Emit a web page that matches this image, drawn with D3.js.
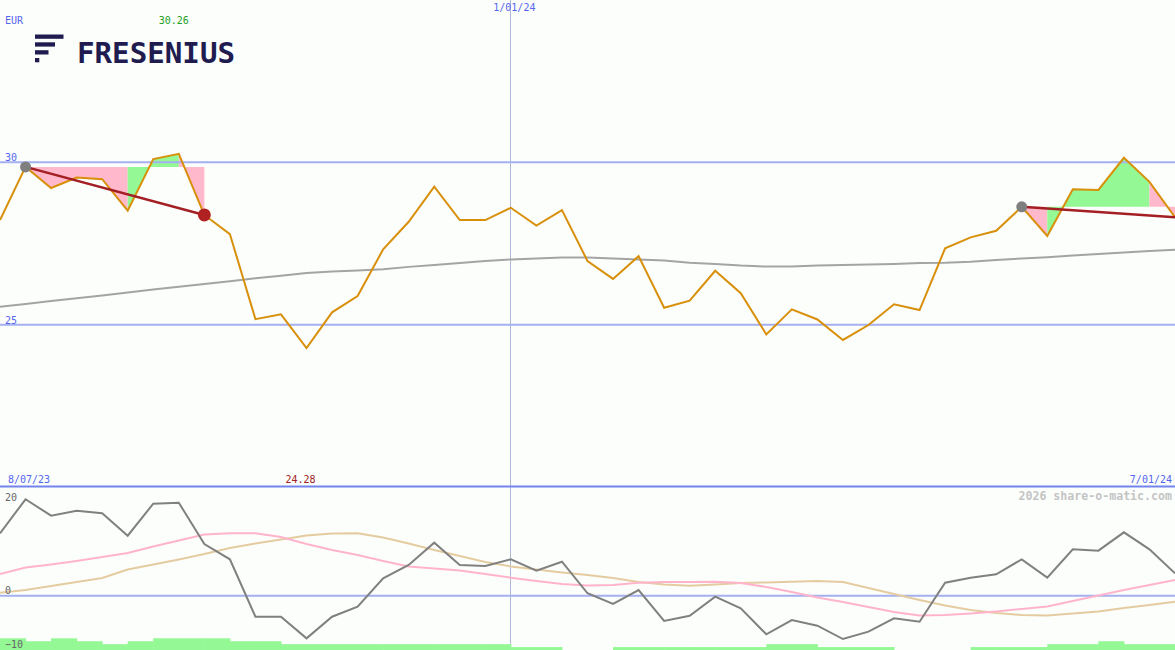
<!DOCTYPE html>
<html>
<head>
<meta charset="utf-8">
<script src="https://cdn.jsdelivr.net/npm/d3@7/dist/d3.min.js"></script>
<style>
  html, body { margin: 0; padding: 0; background: #fcfefc; }
  svg { display: block; }
  text { font-family: "DejaVu Sans Mono", "Liberation Mono", monospace; }
</style>
</head>
<body>
<script>
// ---------------- DATA ----------------
const dates = [
  "2023-08-14","2023-08-21","2023-08-28","2023-09-04","2023-09-11","2023-09-18","2023-09-25",
  "2023-10-02","2023-10-09","2023-10-16","2023-10-23","2023-10-30","2023-11-06","2023-11-13",
  "2023-11-20","2023-11-27","2023-12-04","2023-12-11","2023-12-18","2023-12-25","2024-01-01",
  "2024-01-08","2024-01-15","2024-01-22","2024-01-29","2024-02-05","2024-02-12","2024-02-19",
  "2024-02-26","2024-03-04","2024-03-11","2024-03-18","2024-03-25","2024-04-01","2024-04-08",
  "2024-04-15","2024-04-22","2024-04-29","2024-05-06","2024-05-13","2024-05-20","2024-05-27",
  "2024-06-03","2024-06-10","2024-06-17","2024-06-24","2024-07-01"
];
const price = [
  28.22, 29.86, 29.21, 29.53, 29.48, 28.51, 30.10, 30.26, 28.38, 27.79,
  25.17, 25.32, 24.28, 25.38, 25.88, 27.32, 28.17, 29.25, 28.22, 28.22,
  28.60, 28.05, 28.53, 26.96, 26.41, 27.11, 25.52, 25.74, 26.66, 25.97,
  24.70, 25.47, 25.16, 24.53, 24.99, 25.63, 25.45, 27.35, 27.69, 27.89,
  28.63, 27.73, 29.17, 29.15, 30.14, 29.40, 28.31
];
const movingAvg = [
  25.55, 25.64, 25.73, 25.81, 25.90, 25.99, 26.08, 26.17, 26.25, 26.34,
  26.43, 26.51, 26.59, 26.64, 26.67, 26.71, 26.78, 26.84, 26.90, 26.96,
  27.01, 27.04, 27.07, 27.07, 27.04, 27.01, 26.98, 26.91, 26.87, 26.82,
  26.79, 26.79, 26.82, 26.84, 26.85, 26.87, 26.90, 26.91, 26.94, 26.99,
  27.04, 27.08, 27.13, 27.18, 27.22, 27.27, 27.31
];
const oscillator = [
  11.48, 17.74, 14.72, 15.64, 15.16, 11.04, 16.93, 17.11, 9.51, 6.69,
  -3.87, -3.87, -7.85, -3.87, -2.03, 3.20, 5.65, 9.75, 5.65, 5.46,
  6.69, 4.60, 6.25, 0.44, -1.53, 1.04, -4.66, -3.69, -0.19, -2.32,
  -7.11, -4.48, -5.53, -7.98, -6.63, -4.17, -4.79, 2.39, 3.31, 3.93,
  6.69, 3.31, 8.53, 8.28, 11.66, 8.53, 4.12
];
const signalPink = [
  3.99, 5.18, 5.74, 6.38, 7.12, 7.85, 9.05, 10.15, 11.26, 11.48,
  11.48, 10.80, 9.51, 8.41, 7.49, 6.38, 5.37, 5.00, 4.63, 3.99,
  3.31, 2.70, 2.15, 1.87, 1.96, 2.39, 2.52, 2.52, 2.57, 2.33,
  1.60, 0.68, -0.34, -1.17, -2.09, -3.01, -3.65, -3.56, -3.28, -2.91,
  -2.45, -1.99, -0.98, 0.03, 1.04, 1.96, 2.88
];
const signalTan = [
  0.55, 1.04, 1.78, 2.52, 3.25, 4.82, 5.74, 6.66, 7.67, 8.77,
  9.60, 10.34, 11.07, 11.44, 11.48, 10.71, 9.60, 8.41, 7.30, 6.20,
  5.37, 4.82, 4.26, 3.80, 3.25, 2.52, 2.06, 1.84, 2.06, 2.33,
  2.42, 2.57, 2.70, 2.52, 1.41, 0.31, -0.80, -1.81, -2.64, -3.19,
  -3.56, -3.65, -3.28, -2.91, -2.27, -1.72, -1.11
];
const volumeLevels = [
  4, 3, 4, 3, 2, 3, 4, 4, 4, 3,
  3, 2, 2, 2, 2, 2, 2, 2, 2, 2,
  1, 1, 0, 0, 1, 1, 1, 1, 1, 1,
  2, 2, 1, 1, 1, 0, 0, 0, 1, 1,
  1, 2, 2, 3, 2, 2
];
const mainTicks = [30, 25];
const lowerTicks = [20, 0, -10];
const lowerGrid = [0];
const dateLabels = { start: "8/07/23", middle: "1/01/24", end: "7/01/24" };
const middleDate = "2024-01-01";
const currency = "EUR";
const brand = "FRESENIUS";
const watermark = "2026 share-o-matic.com";
// trend segments: start index, end index
const trendSegments = [[1, 8], [40, 46]];
// shaded bands: [from, to, kind] relative to level at segment start
const bands = [
  [1, 5, "down"], [5, 7, "up"], [7, 8, "down"],
  [40, 41, "down"], [41, 45, "up"], [45, 46, "down"]
];
const bandLevelIndex = [1, 1, 1, 40, 40, 40];

// ---------------- SETUP ----------------
const W = 1175, H = 650;
const parse = d3.timeParse("%Y-%m-%d");
const dts = dates.map(parse);

const svg = d3.select("body").append("svg").attr("width", W).attr("height", H);
svg.append("rect").attr("width", W).attr("height", H).attr("fill", "#fcfefc");

const x = d3.scaleTime().domain([dts[0], dts[dts.length - 1]]).range([0, W]);
const yMain = d3.scaleLinear().domain([20, 35]).range([487, 0]);
const yLow = d3.scaleLinear().domain([-10, 20]).range([650, 487]);
const yVol = d3.scaleLinear().domain([0, 4]).range([650, 638.3]);

const defs = svg.append("defs");
defs.append("clipPath").attr("id", "clipMain").append("rect").attr("x", 0).attr("y", 0).attr("width", W).attr("height", 487);
defs.append("clipPath").attr("id", "clipLow").append("rect").attr("x", 0).attr("y", 487).attr("width", W).attr("height", 163);

const BLUE_GRID = "#a4b0f0";
const BLUE_TEXT = "#5566ee";

// vertical year line
svg.append("line")
  .attr("x1", x(parse(middleDate))).attr("x2", x(parse(middleDate)))
  .attr("y1", 0).attr("y2", H)
  .attr("stroke", "#b0b6d8").attr("stroke-width", 1).attr("shape-rendering", "crispEdges");

// ---------------- MAIN PANEL ----------------
const gMain = svg.append("g").attr("clip-path", "url(#clipMain)");

// bands
bands.forEach((b, k) => {
  const [from, to, kind] = b;
  const level = price[bandLevelIndex[k]];
  const idx = d3.range(from, to + 1);
  const area = d3.area()
    .x(i => x(dts[i]))
    .y0(() => yMain(level))
    .y1(i => yMain(price[i]));
  gMain.append("path").datum(idx)
    .attr("d", area)
    .attr("fill", kind === "up" ? "#94f894" : "#ffb8cc");
});

// grid lines
gMain.selectAll("line.grid").data(mainTicks).join("line")
  .attr("class", "grid")
  .attr("x1", 0).attr("x2", W)
  .attr("y1", d => yMain(d)).attr("y2", d => yMain(d))
  .attr("stroke", BLUE_GRID).attr("stroke-width", 2);

// moving average
gMain.append("path").datum(movingAvg)
  .attr("d", d3.line().x((d, i) => x(dts[i])).y(d => yMain(d)))
  .attr("fill", "none").attr("stroke", "#a4a4a4").attr("stroke-width", 2);

// price
gMain.append("path").datum(price)
  .attr("d", d3.line().x((d, i) => x(dts[i])).y(d => yMain(d)))
  .attr("fill", "none").attr("stroke", "#d8900a").attr("stroke-width", 2).attr("stroke-linejoin", "miter");

// trend lines
trendSegments.forEach(([a, b]) => {
  gMain.append("line")
    .attr("x1", x(dts[a])).attr("y1", yMain(price[a]))
    .attr("x2", x(dts[b])).attr("y2", yMain(price[b]))
    .attr("stroke", "#a31f24").attr("stroke-width", 2.5);
});
// markers
gMain.append("circle").attr("cx", x(dts[1])).attr("cy", yMain(price[1])).attr("r", 5.5).attr("fill", "#7f7f7f");
gMain.append("circle").attr("cx", x(dts[8])).attr("cy", yMain(price[8])).attr("r", 6.5).attr("fill", "#b02222");
gMain.append("circle").attr("cx", x(dts[40])).attr("cy", yMain(price[40])).attr("r", 5.5).attr("fill", "#7f7f7f");

// main y axis labels
const axMain = d3.axisRight(yMain).tickValues(mainTicks).tickSize(0).tickPadding(5).tickFormat(d3.format("d"));
const gAxMain = svg.append("g").call(axMain);
gAxMain.select(".domain").remove();
gAxMain.selectAll("text").attr("dy", "-0.15em").attr("fill", BLUE_TEXT)
  .attr("font-size", 10).attr("font-family", "DejaVu Sans Mono");

// ---------------- LOWER PANEL ----------------
const gLow = svg.append("g").attr("clip-path", "url(#clipLow)");

// volume bars
gLow.selectAll("rect.vol").data(volumeLevels).join("rect")
  .attr("class", "vol")
  .attr("x", (d, i) => x(dts[i]))
  .attr("width", (d, i) => x(dts[i + 1]) - x(dts[i]) + 0.5)
  .attr("y", d => yVol(d))
  .attr("height", d => yVol(0) - yVol(d))
  .attr("fill", "#94f894");

gLow.selectAll("line.lgrid").data(lowerGrid).join("line")
  .attr("class", "lgrid")
  .attr("x1", 0).attr("x2", W)
  .attr("y1", d => yLow(d)).attr("y2", d => yLow(d))
  .attr("stroke", BLUE_GRID).attr("stroke-width", 2);

const lowLineSmooth = d3.line().x((d, i) => x(dts[i])).y(d => yLow(d));
gLow.append("path").datum(signalTan)
  .attr("d", lowLineSmooth).attr("fill", "none").attr("stroke", "#e4cca0").attr("stroke-width", 2);
gLow.append("path").datum(signalPink)
  .attr("d", lowLineSmooth).attr("fill", "none").attr("stroke", "#ffb4cc").attr("stroke-width", 2);
gLow.append("path").datum(oscillator)
  .attr("d", lowLineSmooth).attr("fill", "none").attr("stroke", "#808080").attr("stroke-width", 2);

// separator line
svg.append("line").attr("x1", 0).attr("x2", W).attr("y1", 486.5).attr("y2", 486.5)
  .attr("stroke", "#7484ee").attr("stroke-width", 2);

// lower axis labels
const axLow = d3.axisRight(yLow).tickValues(lowerTicks).tickSize(0).tickPadding(5).tickFormat(d3.format("d"));
const gAxLow = svg.append("g").call(axLow);
gAxLow.select(".domain").remove();
gAxLow.selectAll("text")
  .attr("y", d => (d === 20 ? 13 : (d === 0 ? -2 : -3)))
  .attr("dy", 0)
  .attr("fill", "#666666").attr("font-size", 10).attr("font-family", "DejaVu Sans Mono");

// ---------------- TEXT ----------------
const txt = (s, tx, ty, color, anchor, size, weight) =>
  svg.append("text").attr("x", tx).attr("y", ty).attr("fill", color)
    .attr("text-anchor", anchor || "start").attr("font-size", size || 10)
    .attr("font-weight", weight || "normal").text(s);

txt(currency, 5, 24, BLUE_TEXT);
const iMax = d3.maxIndex(price), iMin = d3.minIndex(price);
txt(d3.format(".2f")(price[iMax]), x(dts[iMax]) - 5, 24, "#22a022", "middle");
txt(d3.format(".2f")(price[iMin]), x(dts[iMin]) - 6, 483, "#a02020", "middle");

// date axis (top) for middle label
const axDate = d3.axisBottom(x).tickValues([parse(middleDate)]).tickSize(0).tickPadding(0)
  .tickFormat(() => dateLabels.middle);
const gAxDate = svg.append("g").attr("transform", "translate(3,4)").call(axDate);
gAxDate.select(".domain").remove();
gAxDate.selectAll("text").attr("fill", BLUE_TEXT).attr("font-size", 10)
  .attr("font-family", "DejaVu Sans Mono").attr("dy", "0.71em");

txt(dateLabels.start, 8, 483, BLUE_TEXT);
txt(dateLabels.end, 1172, 483, BLUE_TEXT, "end");
txt(watermark, 1172, 500, "#c4c4c4", "end", 11.6, "bold");

// ---------------- LOGO ----------------
const NAVY = "#201c50";
const logo = svg.append("g");
logo.append("rect").attr("x", 35).attr("y", 34.5).attr("width", 28.5).attr("height", 4.3).attr("fill", NAVY);
logo.append("rect").attr("x", 35).attr("y", 42.3).attr("width", 20).attr("height", 4.3).attr("fill", NAVY);
logo.append("rect").attr("x", 35).attr("y", 50.2).attr("width", 13.5).attr("height", 4.3).attr("fill", NAVY);
logo.append("rect").attr("x", 35).attr("y", 58).attr("width", 4.3).attr("height", 4.3).attr("fill", NAVY);
logo.append("text").attr("x", 77).attr("y", 63).attr("fill", NAVY)
  .attr("font-family", "Lato, 'Open Sans', sans-serif").attr("font-weight", 900)
  .attr("font-size", 29).attr("textLength", 158).attr("lengthAdjust", "spacingAndGlyphs")
  .text(brand);
</script>
</body>
</html>
